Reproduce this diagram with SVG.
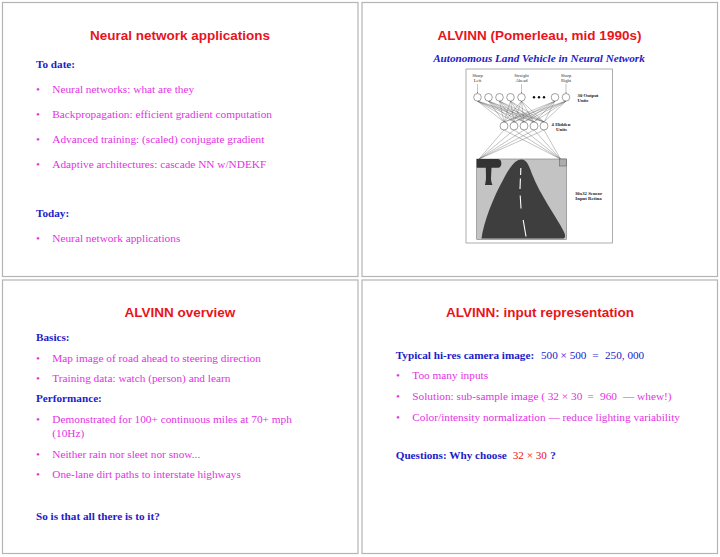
<svg xmlns="http://www.w3.org/2000/svg" width="720" height="557" viewBox="0 0 720 557">
<style>
.slide{fill:#fff;stroke:#b4b4b4;stroke-width:1.2}
.title{font-family:"Liberation Sans",Arial,sans-serif;font-weight:bold;font-size:13.5px;fill:#e8141c;text-anchor:middle}
.head{font-family:"Liberation Serif","Times New Roman",serif;font-weight:bold;font-size:11.2px;fill:#1c1cc8}
.body{font-family:"Liberation Serif","Times New Roman",serif;font-size:11.3px;fill:#e232e2}
.blue{fill:#1c1cc8;font-weight:normal}
.red{fill:#e8141c;font-weight:normal}
.sub{font-family:"Liberation Serif","Times New Roman",serif;font-weight:bold;font-style:italic;font-size:11.2px;fill:#1c1cc8;text-anchor:middle}
.lab{font-family:"Liberation Serif","Times New Roman",serif;font-weight:bold;font-size:4.8px;fill:#222;text-anchor:middle}
.labs{font-family:"Liberation Serif","Times New Roman",serif;font-size:4.6px;fill:#333;text-anchor:middle}
.unit{fill:#fff;stroke:#444;stroke-width:0.5}
.conn line{stroke:#555;stroke-width:0.35}
.arr{stroke:#333;stroke-width:0.5;marker-end:url(#ah)}
</style>
<defs>
<marker id="ah" viewBox="0 0 6 6" refX="5" refY="3" markerWidth="4" markerHeight="4" orient="auto"><path d="M0,0 L6,3 L0,6 Z" fill="#333"/></marker>
</defs>
<rect width="720" height="557" fill="#fff"/>

<g id="slide1">
<rect class="slide" x="2.5" y="2.5" width="355.5" height="274"/>
<text class="title" x="180" y="39.5">Neural network applications</text>
<text class="head" x="36" y="67.7">To date:</text>
<text class="body" x="36" y="92.7">•</text><text class="body" x="52.3" y="92.7">Neural networks: what are they</text>
<text class="body" x="36" y="117.7">•</text><text class="body" x="52.3" y="117.7">Backpropagation: efficient gradient computation</text>
<text class="body" x="36" y="142.7">•</text><text class="body" x="52.3" y="142.7">Advanced training: (scaled) conjugate gradient</text>
<text class="body" x="36" y="167.7">•</text><text class="body" x="52.3" y="167.7">Adaptive architectures: cascade NN w/NDEKF</text>
<text class="head" x="36" y="217.3">Today:</text>
<text class="body" x="36" y="242.3">•</text><text class="body" x="52.3" y="242.3">Neural network applications</text>
</g>

<g id="slide2">
<rect class="slide" x="362" y="2.5" width="355.5" height="274"/>
<text class="title" x="539.5" y="40">ALVINN (Pomerleau, mid 1990s)</text>
<text class="sub" x="539" y="62.3">Autonomous Land Vehicle in Neural Network</text>
<rect x="466" y="69" width="146.5" height="174" fill="none" stroke="#9a9a9a" stroke-width="0.8"/>
</g>

<g id="connectors" class="conn">
<line x1="477.5" y1="101.1" x2="504" y2="122"/><line x1="477.5" y1="101.1" x2="514" y2="122"/><line x1="477.5" y1="101.1" x2="524" y2="122"/><line x1="477.5" y1="101.1" x2="534" y2="122"/><line x1="477.5" y1="101.1" x2="544" y2="122"/>
<line x1="488.5" y1="101.1" x2="504" y2="122"/><line x1="488.5" y1="101.1" x2="514" y2="122"/><line x1="488.5" y1="101.1" x2="524" y2="122"/><line x1="488.5" y1="101.1" x2="534" y2="122"/><line x1="488.5" y1="101.1" x2="544" y2="122"/>
<line x1="499.5" y1="101.1" x2="504" y2="122"/><line x1="499.5" y1="101.1" x2="514" y2="122"/><line x1="499.5" y1="101.1" x2="524" y2="122"/><line x1="499.5" y1="101.1" x2="534" y2="122"/><line x1="499.5" y1="101.1" x2="544" y2="122"/>
<line x1="510.5" y1="101.1" x2="504" y2="122"/><line x1="510.5" y1="101.1" x2="514" y2="122"/><line x1="510.5" y1="101.1" x2="524" y2="122"/><line x1="510.5" y1="101.1" x2="534" y2="122"/><line x1="510.5" y1="101.1" x2="544" y2="122"/>
<line x1="521.5" y1="101.1" x2="504" y2="122"/><line x1="521.5" y1="101.1" x2="514" y2="122"/><line x1="521.5" y1="101.1" x2="524" y2="122"/><line x1="521.5" y1="101.1" x2="534" y2="122"/><line x1="521.5" y1="101.1" x2="544" y2="122"/>
<line x1="555" y1="101.1" x2="504" y2="122"/><line x1="555" y1="101.1" x2="514" y2="122"/><line x1="555" y1="101.1" x2="524" y2="122"/><line x1="555" y1="101.1" x2="534" y2="122"/><line x1="555" y1="101.1" x2="544" y2="122"/>
<line x1="566" y1="101.1" x2="504" y2="122"/><line x1="566" y1="101.1" x2="514" y2="122"/><line x1="566" y1="101.1" x2="524" y2="122"/><line x1="566" y1="101.1" x2="534" y2="122"/><line x1="566" y1="101.1" x2="544" y2="122"/>
<line x1="504" y1="130" x2="479" y2="159"/><line x1="514" y1="130" x2="479" y2="159"/><line x1="524" y1="130" x2="479" y2="159"/><line x1="534" y1="130" x2="479" y2="159"/><line x1="544" y1="130" x2="479" y2="159"/>
<line x1="504" y1="130" x2="560.5" y2="159"/><line x1="514" y1="130" x2="560.5" y2="159"/><line x1="524" y1="130" x2="560.5" y2="159"/><line x1="534" y1="130" x2="560.5" y2="159"/><line x1="544" y1="130" x2="560.5" y2="159"/>
<line class="arr" x1="477.5" y1="84" x2="477.5" y2="92.8"/>
<line class="arr" x1="521.5" y1="84" x2="521.5" y2="92.8"/>
<line class="arr" x1="566" y1="84" x2="566" y2="92.8"/>
</g>

<g id="output-units">
<text class="labs" x="477.5" y="76.5">Sharp</text><text class="labs" x="477.5" y="81.5">Left</text>
<text class="labs" x="521.5" y="76.5">Straight</text><text class="labs" x="521.5" y="81.5">Ahead</text>
<text class="labs" x="566" y="76.5">Sharp</text><text class="labs" x="566" y="81.5">Right</text>
<circle class="unit" cx="477.5" cy="97.3" r="3.8"/>
<circle class="unit" cx="488.5" cy="97.3" r="3.8"/>
<circle class="unit" cx="499.5" cy="97.3" r="3.8"/>
<circle class="unit" cx="510.5" cy="97.3" r="3.8"/>
<circle class="unit" cx="521.5" cy="97.3" r="3.8"/>
<circle cx="534" cy="97.3" r="1.2" fill="#111"/>
<circle cx="539" cy="97.3" r="1.2" fill="#111"/>
<circle cx="544" cy="97.3" r="1.2" fill="#111"/>
<circle class="unit" cx="555" cy="97.3" r="3.8"/>
<circle class="unit" cx="566" cy="97.3" r="3.8"/>
<text class="lab" x="588" y="96.8">30 Output</text><text class="lab" x="583" y="101.8">Units</text>
</g>

<g id="hidden-units">
<circle class="unit" cx="504" cy="126" r="4"/>
<circle class="unit" cx="514" cy="126" r="4"/>
<circle class="unit" cx="524" cy="126" r="4"/>
<circle class="unit" cx="534" cy="126" r="4"/>
<circle class="unit" cx="544" cy="126" r="4"/>
<text class="lab" x="561" y="125.8">4 Hidden</text><text class="lab" x="561.5" y="130.8">Units</text>
</g>

<g id="retina">
<rect x="476.7" y="159" width="89.8" height="80.3" fill="#c3c3c3" stroke="#777" stroke-width="0.6"/>
<path d="M481.5 238.5 C483.5 222 494 196 503 180 C510 167 515 159.5 521.5 159.5 C527 159.5 529 166 532 174 C540 195 556 216 564 232 C566 236 565.5 238.5 562 238.5 Z" fill="#3e3e3e"/>
<g stroke="#fff" stroke-width="1.1" fill="none">
<line x1="520.8" y1="168" x2="520.6" y2="175"/>
<line x1="520.4" y1="178.5" x2="520" y2="189"/>
<line x1="520.2" y1="195.5" x2="521" y2="208.5"/>
<line x1="523.2" y1="220" x2="526" y2="236.5"/>
</g>
<path d="M476.7 159 H498 C502.5 159 502.5 167.8 498 167.8 H491.5 L491 178 C491 182 492.5 185 492.5 185 H485 C485 185 486 181 486 177 L485.8 167.8 H476.7 Z" fill="#333"/>
<rect x="559.5" y="159" width="7" height="7" fill="#adadad" stroke="#555" stroke-width="0.5"/>
<text class="lab" x="588.5" y="195">30x32 Sensor</text><text class="lab" x="588.5" y="200">Input Retina</text>
</g>

<g id="slide3">
<rect class="slide" x="2.5" y="280" width="355.5" height="273.5"/>
<text class="title" x="180" y="317.3">ALVINN overview</text>
<text class="head" x="36" y="341">Basics:</text>
<text class="body" x="36" y="361.7">•</text><text class="body" x="52.3" y="361.7">Map image of road ahead to steering direction</text>
<text class="body" x="36" y="382">•</text><text class="body" x="52.3" y="382">Training data: watch (person) and learn</text>
<text class="head" x="36" y="402.3">Performance:</text>
<text class="body" x="36" y="423.3">•</text><text class="body" x="52.3" y="423.3">Demonstrated for 100+ continuous miles at 70+ mph</text>
<text class="body" x="52.3" y="437.3">(10Hz)</text>
<text class="body" x="36" y="457.7">•</text><text class="body" x="52.3" y="457.7">Neither rain nor sleet nor snow...</text>
<text class="body" x="36" y="478.3">•</text><text class="body" x="52.3" y="478.3">One-lane dirt paths to interstate highways</text>
<text class="head" x="36" y="520">So is that all there is to it?</text>
</g>

<g id="slide4">
<rect class="slide" x="362" y="280" width="355.5" height="273.5"/>
<text class="title" x="540" y="317.3">ALVINN: input representation</text>
<text class="head" x="395.7" y="359.3">Typical hi-res camera image:<tspan class="blue" x="541">500 × 500</tspan><tspan class="blue" x="592.3">=</tspan><tspan class="blue" x="605">250, 000</tspan></text>
<text class="body" x="396" y="379">•</text><text class="body" x="412.3" y="379">Too many inputs</text>
<text class="body" x="396" y="400">•</text><text class="body" x="412.3" y="400">Solution: sub-sample image (<tspan x="547.7">32 × 30</tspan><tspan x="587.5">=</tspan><tspan x="600">960</tspan><tspan x="623">— whew!)</tspan></text>
<text class="body" x="396" y="420.7">•</text><text class="body" x="412.3" y="420.7">Color/intensity normalization — reduce lighting variability</text>
<text class="head" x="395.7" y="459">Questions: Why choose<tspan class="red" x="512.7">32 × 30</tspan><tspan x="550.3">?</tspan></text>
</g>
</svg>
